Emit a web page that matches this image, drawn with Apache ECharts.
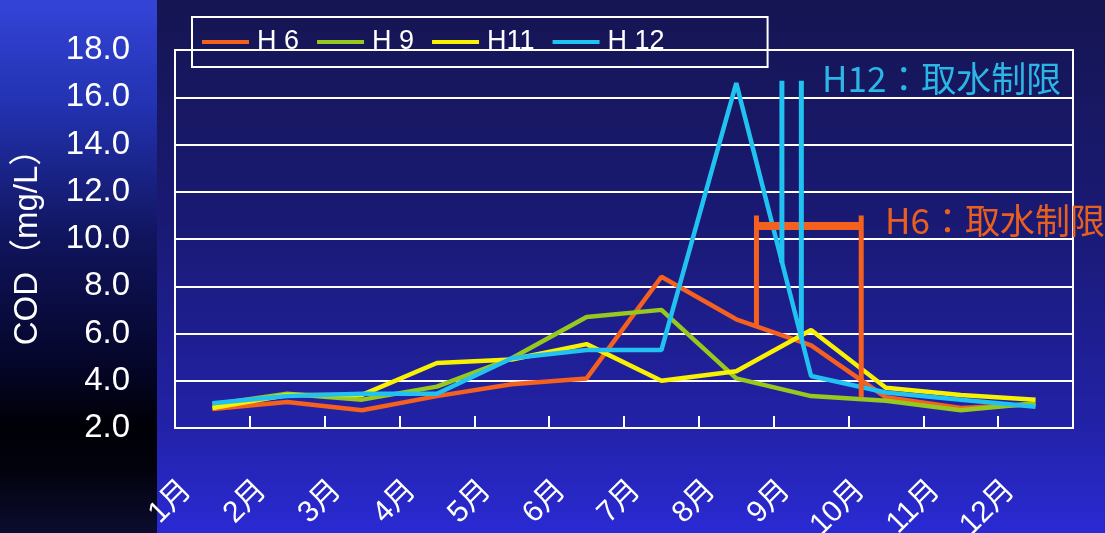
<!DOCTYPE html>
<html>
<head>
<meta charset="utf-8">
<script src="https://cdn.jsdelivr.net/npm/echarts@6/dist/echarts.min.js"></script>
<style>
html,body{margin:0;padding:0;width:1105px;height:533px;overflow:hidden;background:#1a1a70;}
#c{width:1105px;height:533px;}
</style>
</head>
<body>
<div id="c"></div>
<script>
// ---- data ----
const months = ['1月','2月','3月','4月','5月','6月','7月','8月','9月','10月','11月','12月'];
const seriesNames = ['H 6','H 9','H11','H 12'];
const h6  = [2.8, 3.1, 2.75, 3.35, 3.85, 4.1, 8.4, 6.6, 5.5, 3.3, 2.85, 3.0];
const h9  = [3.0, 3.45, 3.2, 3.75, 4.95, 6.7, 7.0, 4.1, 3.35, 3.15, 2.75, 3.05];
const h11 = [2.85, 3.4, 3.4, 4.75, 4.9, 5.55, 4.0, 4.4, 6.15, 3.7, 3.4, 3.2];
const h12 = [3.05, 3.35, 3.45, 3.45, 4.95, 5.3, 5.3, 16.6, 4.2, 3.5, 3.2, 2.9];
const yTicks = [2, 4, 6, 8, 10, 12, 14, 16, 18];
// annotation brackets (x in month units 0..12, y in mg/L)
const h6Bracket = {left: [[7.77, 6.3], [7.77, 11.0]], bar: [[7.77, 10.55], [9.17, 10.55]], right: [[9.17, 11.0], [9.17, 3.3]]};
const h12Bracket = {left: [[8.11, 9.0], [8.11, 16.7]], right: [[8.37, 5.8], [8.37, 16.7]]};
const noteH12 = 'H12：取水制限';
const noteH6 = 'H6：取水制限';

const colors = ['#f4601e', '#96c81e', '#f8f200', '#22c2f0'];
const fontLatin = "'Liberation Sans', 'Noto Sans CJK JP', sans-serif";

const chart = echarts.init(document.getElementById('c'));

function seg(data, color, width) {
  return {
    type: 'line', xAxisIndex: 1, data: data, symbol: 'none', silent: true,
    lineStyle: {color: color, width: width}, z: 4, animation: false
  };
}

const mainSeries = [h6, h9, h11, h12].map((d, i) => ({
  name: seriesNames[i], type: 'line', data: d, symbol: 'none',
  lineStyle: {color: colors[i], width: 4.5}, itemStyle: {color: colors[i]},
  z: 3, animation: false
}));

chart.setOption({
  animation: false,
  graphic: [
    {type: 'rect', z: -100, silent: true, shape: {x: 157, y: 0, width: 948, height: 533},
     style: {fill: new echarts.graphic.LinearGradient(0, 0, 0, 1, [
       {offset: 0, color: '#151552'}, {offset: 0.45, color: '#1a1a78'},
       {offset: 0.8, color: '#2222a8'}, {offset: 1, color: '#2a2ad4'}])}},
    {type: 'rect', z: -100, silent: true, shape: {x: 0, y: 0, width: 157, height: 533},
     style: {fill: new echarts.graphic.LinearGradient(0, 0, 0, 1, [
       {offset: 0, color: '#3444d8'}, {offset: 0.2, color: '#2232b0'},
       {offset: 0.45, color: '#10145c'}, {offset: 0.68, color: '#05062a'},
       {offset: 0.8, color: '#000006'}, {offset: 0.88, color: '#02020e'},
       {offset: 1, color: '#0c0c30'}])}},
    {type: 'text', z: 10, left: 822, top: 61, silent: true,
     style: {text: noteH12, fill: '#2cb6e6', font: "35px 'Noto Sans CJK JP', sans-serif"}},
    {type: 'text', z: 10, left: 885, top: 203, silent: true,
     style: {text: noteH6, fill: '#e8601e', font: "35px 'Noto Sans CJK JP', sans-serif"}}
  ],
  legend: {
    data: seriesNames, left: 192, top: 17,
    borderColor: '#ffffff', borderWidth: 2, padding: [10, 103, 10, 10],
    itemWidth: 47, itemHeight: 4, itemGap: 18, icon: 'rect',
    textStyle: {color: '#ffffff', fontSize: 27, fontFamily: fontLatin, lineHeight: 30, padding: [0, 0, 0, 3]}
  },
  grid: {left: 175, right: 32, top: 50, bottom: 105, show: true, borderColor: '#ffffff', borderWidth: 2,
         containLabel: false, outerBoundsMode: 'none'},
  xAxis: [
    {type: 'category', data: months, boundaryGap: true,
     axisLine: {show: true, lineStyle: {color: '#ffffff', width: 2}},
     axisTick: {show: true, inside: true, length: 12, lineStyle: {color: '#ffffff', width: 2}},
     axisLabel: {interval: 0, rotate: 45, margin: 32, color: '#ffffff', fontSize: 30,
                 fontFamily: fontLatin, padding: [0, 36, 0, 0]},
     splitLine: {show: false}},
    {type: 'value', min: 0, max: 12, show: false}
  ],
  yAxis: {
    type: 'value', min: yTicks[0], max: yTicks[yTicks.length - 1], interval: 2,
    name: 'COD（mg/L）', nameLocation: 'middle', nameGap: 131, nameRotate: 90,
    nameTextStyle: {color: '#ffffff', fontSize: 33, fontFamily: fontLatin},
    axisLine: {show: true, lineStyle: {color: '#ffffff', width: 2}},
    axisTick: {show: false},
    axisLabel: {color: '#ffffff', fontSize: 33, fontFamily: fontLatin, margin: 45,
                formatter: v => v.toFixed(1)},
    splitLine: {show: true, lineStyle: {color: '#ffffff', width: 2}}
  },
  series: mainSeries.concat([
    seg(h6Bracket.left, '#f4601e', 5),
    seg(h6Bracket.bar, '#f4601e', 8),
    seg(h6Bracket.right, '#f4601e', 5),
    seg(h12Bracket.left, '#22c2f0', 5),
    seg(h12Bracket.right, '#22c2f0', 5)
  ])
});
</script>
</body>
</html>
